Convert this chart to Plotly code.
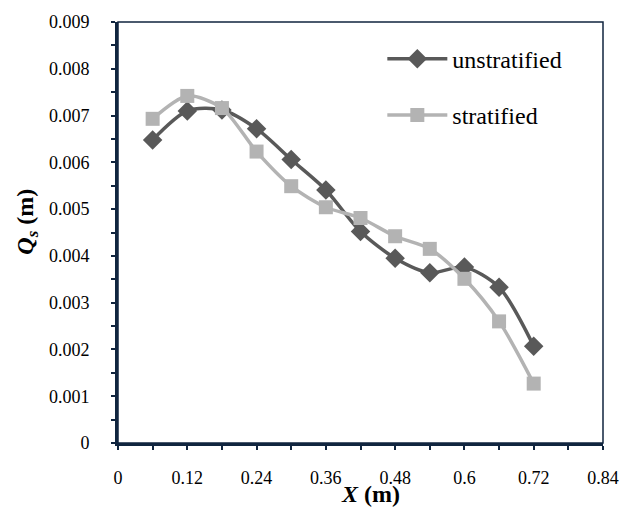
import plotly.graph_objects as go

x_vals = [0.06, 0.12, 0.18, 0.24, 0.30, 0.36, 0.42, 0.48, 0.54, 0.60, 0.66, 0.72]
unstratified = [0.00648, 0.00710, 0.00712, 0.00672, 0.00606, 0.00541, 0.00452, 0.00395, 0.00364, 0.00376, 0.00333, 0.00207]
stratified = [0.00693, 0.00742, 0.00716, 0.00623, 0.00549, 0.00504, 0.00481, 0.00442, 0.00415, 0.00351, 0.00260, 0.00127]

x_tickvals = [0, 0.12, 0.24, 0.36, 0.48, 0.6, 0.72, 0.84]
x_ticktext = ["0", "0.12", "0.24", "0.36", "0.48", "0.6", "0.72", "0.84"]
y_tickvals = [0, 0.001, 0.002, 0.003, 0.004, 0.005, 0.006, 0.007, 0.008, 0.009]
y_ticktext = ["0", "0.001", "0.002", "0.003", "0.004", "0.005", "0.006", "0.007", "0.008", "0.009"]

FONT = "Liberation Serif, Times New Roman, serif"
AX = "#10253F"

fig = go.Figure()
fig.add_trace(go.Scatter(
    x=x_vals, y=unstratified, name="unstratified", mode="lines+markers",
    line=dict(color="#595959", width=3.5, shape="spline", smoothing=0.8),
    marker=dict(symbol="diamond", size=15, color="#595959"),
    legendgroup="a",
))
fig.add_trace(go.Scatter(
    x=x_vals, y=stratified, name="stratified", mode="lines+markers",
    line=dict(color="#B3B3B3", width=3.5, shape="spline", smoothing=0.8),
    marker=dict(symbol="square", size=14, color="#B3B3B3"),
    legendgroup="b",
))

fig.update_layout(
    width=633, height=511,
    margin=dict(l=118, r=30, t=17, b=68),
    paper_bgcolor="white", plot_bgcolor="white",
    font=dict(family=FONT, size=18, color="black"),
    legend=dict(x=0.545, y=0.965, xanchor="left", yanchor="top",
                font=dict(size=24, family=FONT), itemwidth=60,
                tracegroupgap=22, traceorder="grouped",
                bgcolor="rgba(0,0,0,0)"),
    showlegend=True,
)
fig.update_xaxes(
    range=[0, 0.84], tickvals=x_tickvals, ticktext=x_ticktext,
    showgrid=False, zeroline=False,
    showline=True, linecolor=AX, linewidth=3,
    ticks="outside", ticklen=4, tickwidth=2, tickcolor=AX,
    minor=dict(ticks="outside", dtick=0.06, tick0=0, ticklen=4, tickwidth=2, tickcolor=AX),
    ticklabelstandoff=12,
    tickfont=dict(size=18, family=FONT),
)
fig.update_yaxes(
    range=[0, 0.009], tickvals=y_tickvals, ticktext=y_ticktext,
    showgrid=False, zeroline=False,
    showline=True, linecolor=AX, linewidth=3,
    ticks="outside", ticklen=4, tickwidth=2, tickcolor=AX,
    minor=dict(ticks="outside", dtick=0.0005, tick0=0, ticklen=4, tickwidth=2, tickcolor=AX),
    ticklabelstandoff=18,
    tickfont=dict(size=18, family=FONT),
)
fig.add_shape(type="rect", xref="paper", yref="paper", x0=0, y0=0, x1=1, y1=1,
              line=dict(color=AX, width=1.5), layer="above")
fig.add_annotation(text="<b><i>X</i> (m)</b>", xref="paper", yref="paper",
                   x=(370 - 118) / 485, y=(443 - 495) / 426,
                   xanchor="center", yanchor="middle", showarrow=False,
                   font=dict(size=24, family=FONT))
fig.add_annotation(text="<b><i>Q<sub>s</sub></i> (m)</b>", xref="paper", yref="paper",
                   x=(27 - 118) / 485, y=(443 - 219) / 426, textangle=-90,
                   xanchor="center", yanchor="middle", showarrow=False,
                   font=dict(size=24, family=FONT))

fig.write_html("out.html")
